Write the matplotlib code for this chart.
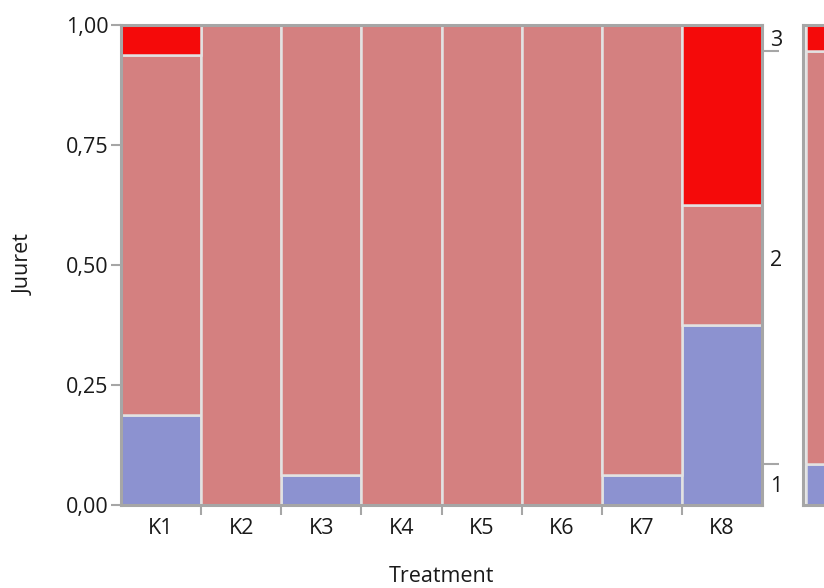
import matplotlib
matplotlib.use("Agg")
import matplotlib.pyplot as plt
import numpy as np

plt.rcParams['font.family'] = ['Open Sans', 'DejaVu Sans']

treatments = ["K1", "K2", "K3", "K4", "K5", "K6", "K7", "K8"]
# counts of Juuret level per treatment (16 per treatment)
level1 = [3, 0, 1, 0, 0, 0, 1, 6]
level2 = [12, 16, 15, 16, 16, 16, 15, 4]
level3 = [1, 0, 0, 0, 0, 0, 0, 6]
level_names = ["1", "2", "3"]
colors = ["#8C92D0", "#D48080", "#F50A0A"]
y_ticks = [0, 0.25, 0.5, 0.75, 1.0]
y_ticklabels = ["0,00", "0,25", "0,50", "0,75", "1,00"]

counts = np.array([level1, level2, level3], dtype=float)
props = counts / counts.sum(axis=0)

frame = "#A6A6A6"
sep = "#E2E2E2"
txt = "#1A1A1A"
fs = 15.5

fig = plt.figure(figsize=(8.24, 5.88), dpi=100)
ax = fig.add_axes([121/824, 1 - 505/588, 641/824, 480/588])

x = np.arange(len(treatments))
bottom = np.zeros(len(treatments))
for i in range(3):
    ax.bar(x, props[i], width=1.0, bottom=bottom, color=colors[i],
           edgecolor=sep, linewidth=1.8)
    bottom += props[i]

ax.set_xlim(-0.5, len(treatments) - 0.5)
ax.set_ylim(0, 1)
for s in ax.spines.values():
    s.set_color(frame)
    s.set_linewidth(2.2)

ax.set_yticks(y_ticks)
ax.set_yticklabels(y_ticklabels)
ax.set_xticks(x)
ax.set_xticklabels(treatments)
ax.set_xticks(np.arange(len(treatments) - 1) + 0.5, minor=True)
ax.tick_params(axis='x', which='major', length=0, pad=9, labelsize=fs, labelcolor=txt)
ax.tick_params(axis='x', which='minor', length=7, width=1.5, color=frame)
ax.tick_params(axis='y', length=7, width=1.5, color=frame, labelsize=fs, labelcolor=txt, pad=2)
ax.set_xlabel("Treatment", fontsize=fs, labelpad=20, color=txt)
ax.set_ylabel("Juuret", fontsize=fs, labelpad=22, color=txt)

# right axis: overall distribution of levels
overall = counts.sum(axis=1) / counts.sum()
cum = np.cumsum(overall)
mids = cum - overall / 2
ax2 = ax.twinx()
ax2.set_ylim(0, 1)
for s in ax2.spines.values():
    s.set_visible(False)
ax2.set_yticks(cum[:-1])
ax2.set_yticklabels([])
ax2.set_yticks(mids, minor=True)
ax2.set_yticklabels(level_names, minor=True)
ax2.tick_params(axis='y', which='major', length=12, width=1.5, color=frame)
ax2.tick_params(axis='y', which='minor', length=0, pad=6, labelsize=fs, labelcolor=txt)

# marginal column (cut by figure edge)
axm = fig.add_axes([803/824, 1 - 505/588, 60/824, 480/588])
bm = 0
for i in range(3):
    axm.bar(0, overall[i], width=1.0, bottom=bm, color=colors[i],
            edgecolor=sep, linewidth=1.8)
    bm += overall[i]
axm.set_xlim(-0.55, 0.5)
axm.set_ylim(0, 1)
axm.set_xticks([])
axm.set_yticks([])
for s in axm.spines.values():
    s.set_color(frame)
    s.set_linewidth(2.2)

fig.savefig("out.png", dpi=100)
